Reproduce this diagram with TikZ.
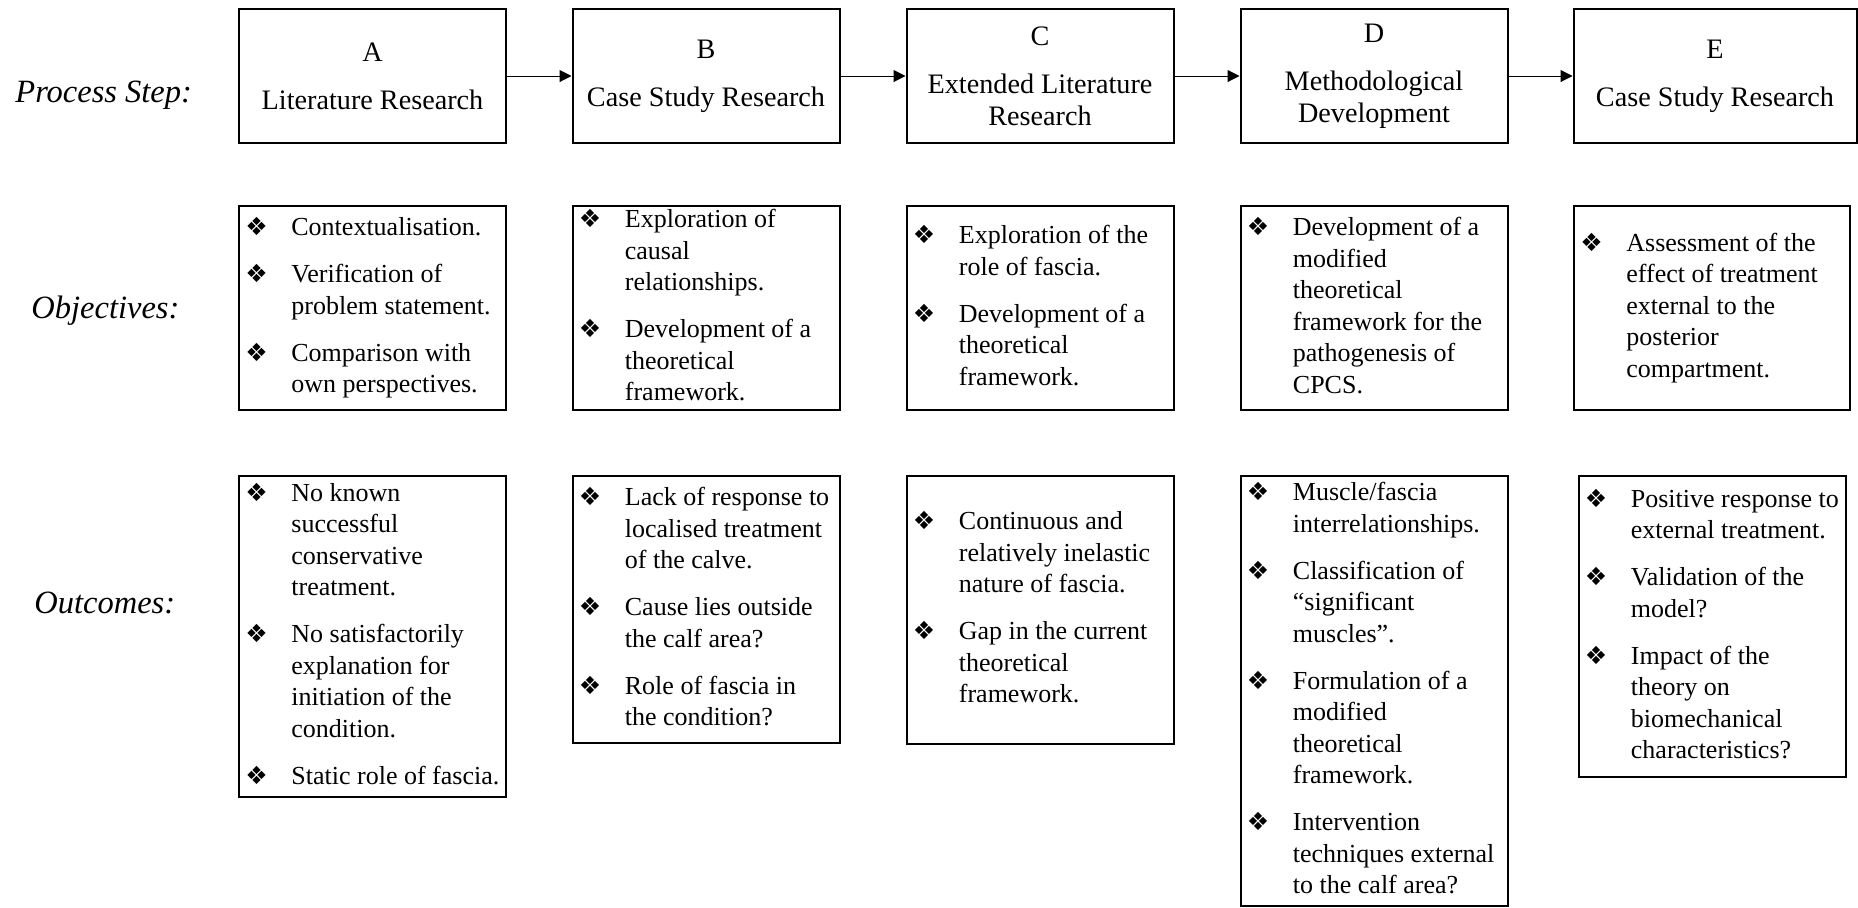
\documentclass[tikz,border=0pt]{standalone}
\usepackage{fontspec}
\setmainfont{Liberation Serif}
\newfontfamily\dejavu{DejaVu Sans}
\usetikzlibrary{arrows.meta}
\newcommand{\bul}{{\dejavu\fontsize{12.5}{12.5}\selectfont\hspace{0.5pt}❖}}
\newcommand{\itemlist}[1]{\begin{tabular}{@{}p{23.5pt}@{}l@{}}#1\end{tabular}}

\begin{document}
\begin{tikzpicture}[x=0.5pt, y=-0.5pt,
    stepbox/.style={draw, line width=1pt, minimum width=133.5pt, minimum height=67pt, inner sep=0pt, align=center, font=\fontsize{14.1}{16}\selectfont},
    listbox/.style={draw, line width=1pt, minimum width=133.5pt, inner sep=0pt},
    listtxt/.style={anchor=west, inner sep=0pt, font=\fontsize{13}{15.75}\selectfont},
    lbl/.style={anchor=base west, inner sep=0pt, font=\fontsize{16.25}{19}\selectfont\itshape},
    arr/.style={-{Triangle[length=6pt,width=6pt]}, line width=0.5pt}]
    \useasboundingbox (0,0) rectangle (1858,907);

    % Etichette
    \node[lbl] (lblStep) at (15,102) {Process Step:};
    \node[lbl] (lblObj) at (31,318) {Objectives:};
    \node[lbl] (lblOut) at (34,613) {Outcomes:};

    % Fasi del processo
    \node[stepbox] (stepA) at (372.5,76) {A\\[8pt]Literature Research};
    \node[stepbox] (stepB) at (706,76) {B\\[8pt]Case Study Research};
    \node[stepbox] (stepC) at (1040,76) {C\\[8pt]Extended Literature\\Research};
    \node[stepbox] (stepD) at (1374,76) {D\\[8pt]Methodological\\Development};
    \node[stepbox, minimum width=141.5pt] (stepE) at (1715,76) {E\\[8pt]Case Study Research};

    % Obiettivi
    \node[listbox, minimum height=102pt] (objA) at (372.5,308) {};
    \node[listbox, minimum height=102pt] (objB) at (706,308) {};
    \node[listbox, minimum height=102pt] (objC) at (1040,308) {};
    \node[listbox, minimum height=102pt] (objD) at (1374,308) {};
    \node[listbox, minimum height=102pt, minimum width=138pt] (objE) at (1712,308) {};

    \node[listtxt] (objAt) at ([xshift=3pt]objA.west) {\itemlist{
        \bul & Contextualisation.\\[7.75pt]
        \bul & Verification of\\ & problem statement.\\[7.75pt]
        \bul & Comparison with\\ & own perspectives.}};
    \node[listtxt] (objBt) at ([xshift=3pt]objB.west) {\itemlist{
        \bul & Exploration of\\ & causal\\ & relationships.\\[7.75pt]
        \bul & Development of a\\ & theoretical\\ & framework.}};
    \node[listtxt] (objCt) at ([xshift=3pt]objC.west) {\itemlist{
        \bul & Exploration of the\\ & role of fascia.\\[7.75pt]
        \bul & Development of a\\ & theoretical\\ & framework.}};
    \node[listtxt] (objDt) at ([xshift=3pt]objD.west) {\itemlist{
        \bul & Development of a\\ & modified\\ & theoretical\\ & framework for the\\ & pathogenesis of\\ & CPCS.}};
    \node[listtxt] (objEt) at ([xshift=3pt]objE.west) {\itemlist{
        \bul & Assessment of the\\ & effect of treatment\\ & external to the\\ & posterior\\ & compartment.}};

    % Risultati
    \node[listbox, minimum height=160.5pt] (outA) at (372.5,636.5) {};
    \node[listbox, minimum height=133.5pt] (outB) at (706,609.5) {};
    \node[listbox, minimum height=134pt] (outC) at (1040,610) {};
    \node[listbox, minimum height=215pt] (outD) at (1374,691) {};
    \node[listbox, minimum height=150.5pt] (outE) at (1712,626.5) {};

    \node[listtxt] (outAt) at ([xshift=3pt]outA.west) {\itemlist{
        \bul & No known\\ & successful\\ & conservative\\ & treatment.\\[7.75pt]
        \bul & No satisfactorily\\ & explanation for\\ & initiation of the\\ & condition.\\[7.75pt]
        \bul & Static role of fascia.}};
    \node[listtxt] (outBt) at ([xshift=3pt]outB.west) {\itemlist{
        \bul & Lack of response to\\ & localised treatment\\ & of the calve.\\[7.75pt]
        \bul & Cause lies outside\\ & the calf area?\\[7.75pt]
        \bul & Role of fascia in\\ & the condition?}};
    \node[listtxt] (outCt) at ([xshift=3pt]outC.west) {\itemlist{
        \bul & Continuous and\\ & relatively inelastic\\ & nature of fascia.\\[7.75pt]
        \bul & Gap in the current\\ & theoretical\\ & framework.}};
    \node[listtxt] (outDt) at ([xshift=3pt]outD.west) {\itemlist{
        \bul & Muscle/fascia\\ & interrelationships.\\[7.75pt]
        \bul & Classification of\\ & “significant\\ & muscles”.\\[7.75pt]
        \bul & Formulation of a\\ & modified\\ & theoretical\\ & framework.\\[7.75pt]
        \bul & Intervention\\ & techniques external\\ & to the calf area?}};
    \node[listtxt] (outEt) at ([xshift=3pt]outE.west) {\itemlist{
        \bul & Positive response to\\ & external treatment.\\[7.75pt]
        \bul & Validation of the\\ & model?\\[7.75pt]
        \bul & Impact of the\\ & theory on\\ & biomechanical\\ & characteristics?}};

    % Collegamenti
    \draw[arr] (stepA) -- (stepB);
    \draw[arr] (stepB) -- (stepC);
    \draw[arr] (stepC) -- (stepD);
    \draw[arr] (stepD) -- (stepE);
\end{tikzpicture}
\end{document}
